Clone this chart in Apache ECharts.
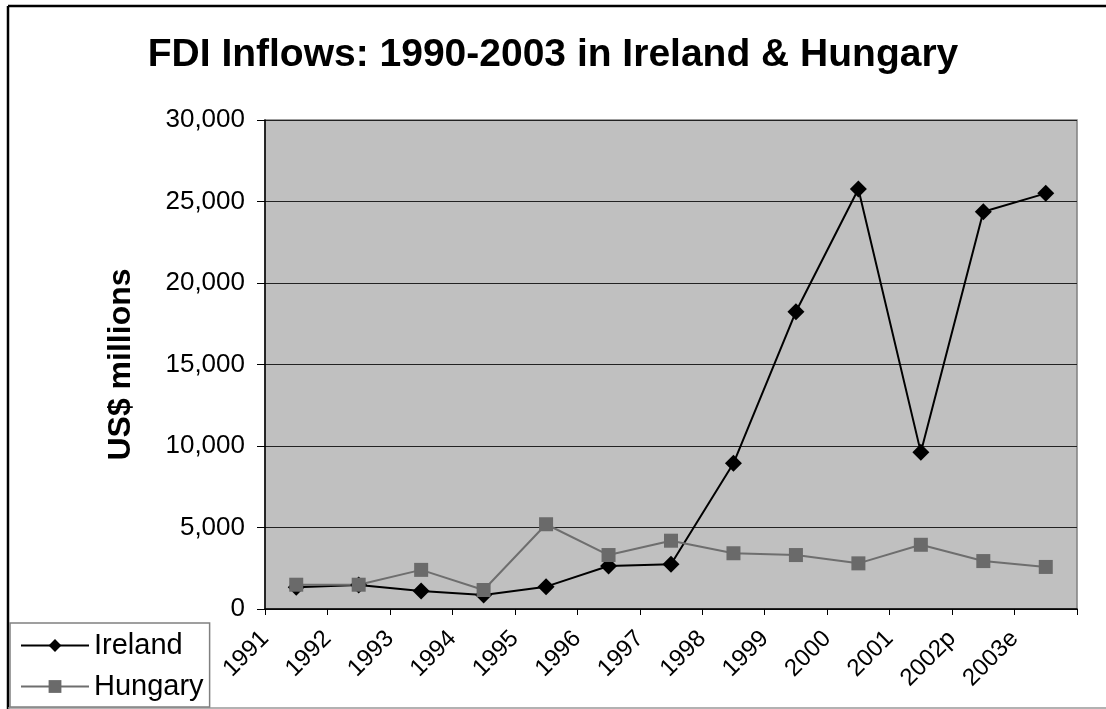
<!DOCTYPE html>
<html>
<head>
<meta charset="utf-8">
<script src="https://cdn.jsdelivr.net/npm/echarts@6/dist/echarts.min.js"></script>
<style>
  *{ margin:0px; padding:0px; }
  body{ background:#fff; }
  #main{ width:1106px; height:709px; }
</style>
</head>
<body>
<div id="main"></div>
<script type="text/javascript">
var years = ['1991','1992','1993','1994','1995','1996','1997','1998','1999','2000','2001','2002p','2003e'];
var ireland = [1330, 1470, 1100, 860, 1370, 2640, 2740, 8940, 18240, 25770, 9610, 24370, 25500];
var hungary = [1490, 1490, 2400, 1165, 5200, 3310, 4190, 3420, 3310, 2800, 3940, 2940, 2580];
var yTicks = { min: 0, max: 30000, step: 5000 };

var font = 'Liberation Sans';
var myChart = echarts.init(document.getElementById('main'));

myChart.setOption({
    animation: false,
    textStyle: { fontFamily: font },
    title: {
        text: 'FDI Inflows: 1990-2003 in Ireland & Hungary',
        left: 'center',
        top: 31,
        textStyle: { fontSize: 39, fontWeight: 'bold', color: '#000', fontFamily: font }
    },
    legend: {
        orient: 'vertical',
        left: 10,
        top: 623,
        padding: [8, 6, 6, 10],
        itemGap: 12,
        itemWidth: 68,
        itemHeight: 16,
        borderColor: '#808080',
        borderWidth: 1.5,
        backgroundColor: '#fff',
        textStyle: { fontSize: 29, color: '#000', fontFamily: font },
        data: ['Ireland', 'Hungary']
    },
    grid: {
        left: 265, right: 29, top: 120, bottom: 100,
        show: true,
        backgroundColor: '#c0c0c0',
        borderColor: '#808080',
        borderWidth: 1.5
    },
    xAxis: [
        {
            type: 'category',
            data: years,
            boundaryGap: true,
            show: false
        },
        {
            type: 'category',
            position: 'bottom',
            data: years.concat(['']),
            boundaryGap: false,
            axisLine: { lineStyle: { color: '#000', width: 1.5 } },
            axisTick: { length: 6, interval: 0, lineStyle: { color: '#000' } },
            axisLabel: { interval: 0, rotate: 45, margin: 26, fontSize: 24, color: '#000', fontFamily: font }
        }
    ],
    yAxis: {
        type: 'value',
        min: yTicks.min,
        max: yTicks.max,
        interval: yTicks.step,
        name: 'US$ millions',
        nameLocation: 'middle',
        nameGap: 128,
        nameTextStyle: { fontSize: 32, fontWeight: 'bold', color: '#000', fontFamily: font },
        axisLine: { show: true, lineStyle: { color: '#000', width: 1.5 } },
        axisTick: { show: true, length: 8, lineStyle: { color: '#000' } },
        axisLabel: {
            fontSize: 26, color: '#000', margin: 20, fontFamily: font,
            formatter: function (v) { return v.toLocaleString('en-US'); }
        },
        splitLine: { lineStyle: { color: '#222', width: 1 } }
    },
    series: [
        {
            name: 'Ireland',
            type: 'line',
            xAxisIndex: 0,
            data: ireland,
            symbol: 'diamond',
            symbolSize: 17,
            lineStyle: { color: '#000', width: 2 },
            itemStyle: { color: '#000' }
        },
        {
            name: 'Hungary',
            type: 'line',
            xAxisIndex: 0,
            data: hungary,
            symbol: 'rect',
            symbolSize: 14,
            lineStyle: { color: '#6e6e6e', width: 2 },
            itemStyle: { color: '#6a6a6a' }
        }
    ],
    graphic: [
        { type: 'line', shape: { x1: 8, y1: 6, x2: 1106, y2: 6 }, style: { stroke: '#000', lineWidth: 2.5 } },
        { type: 'line', shape: { x1: 8, y1: 6, x2: 8, y2: 709 }, style: { stroke: '#000', lineWidth: 2.5 } },
        { type: 'line', shape: { x1: 8, y1: 708, x2: 1106, y2: 708 }, style: { stroke: '#999', lineWidth: 1.5 } }
    ]
});
</script>
</body>
</html>
